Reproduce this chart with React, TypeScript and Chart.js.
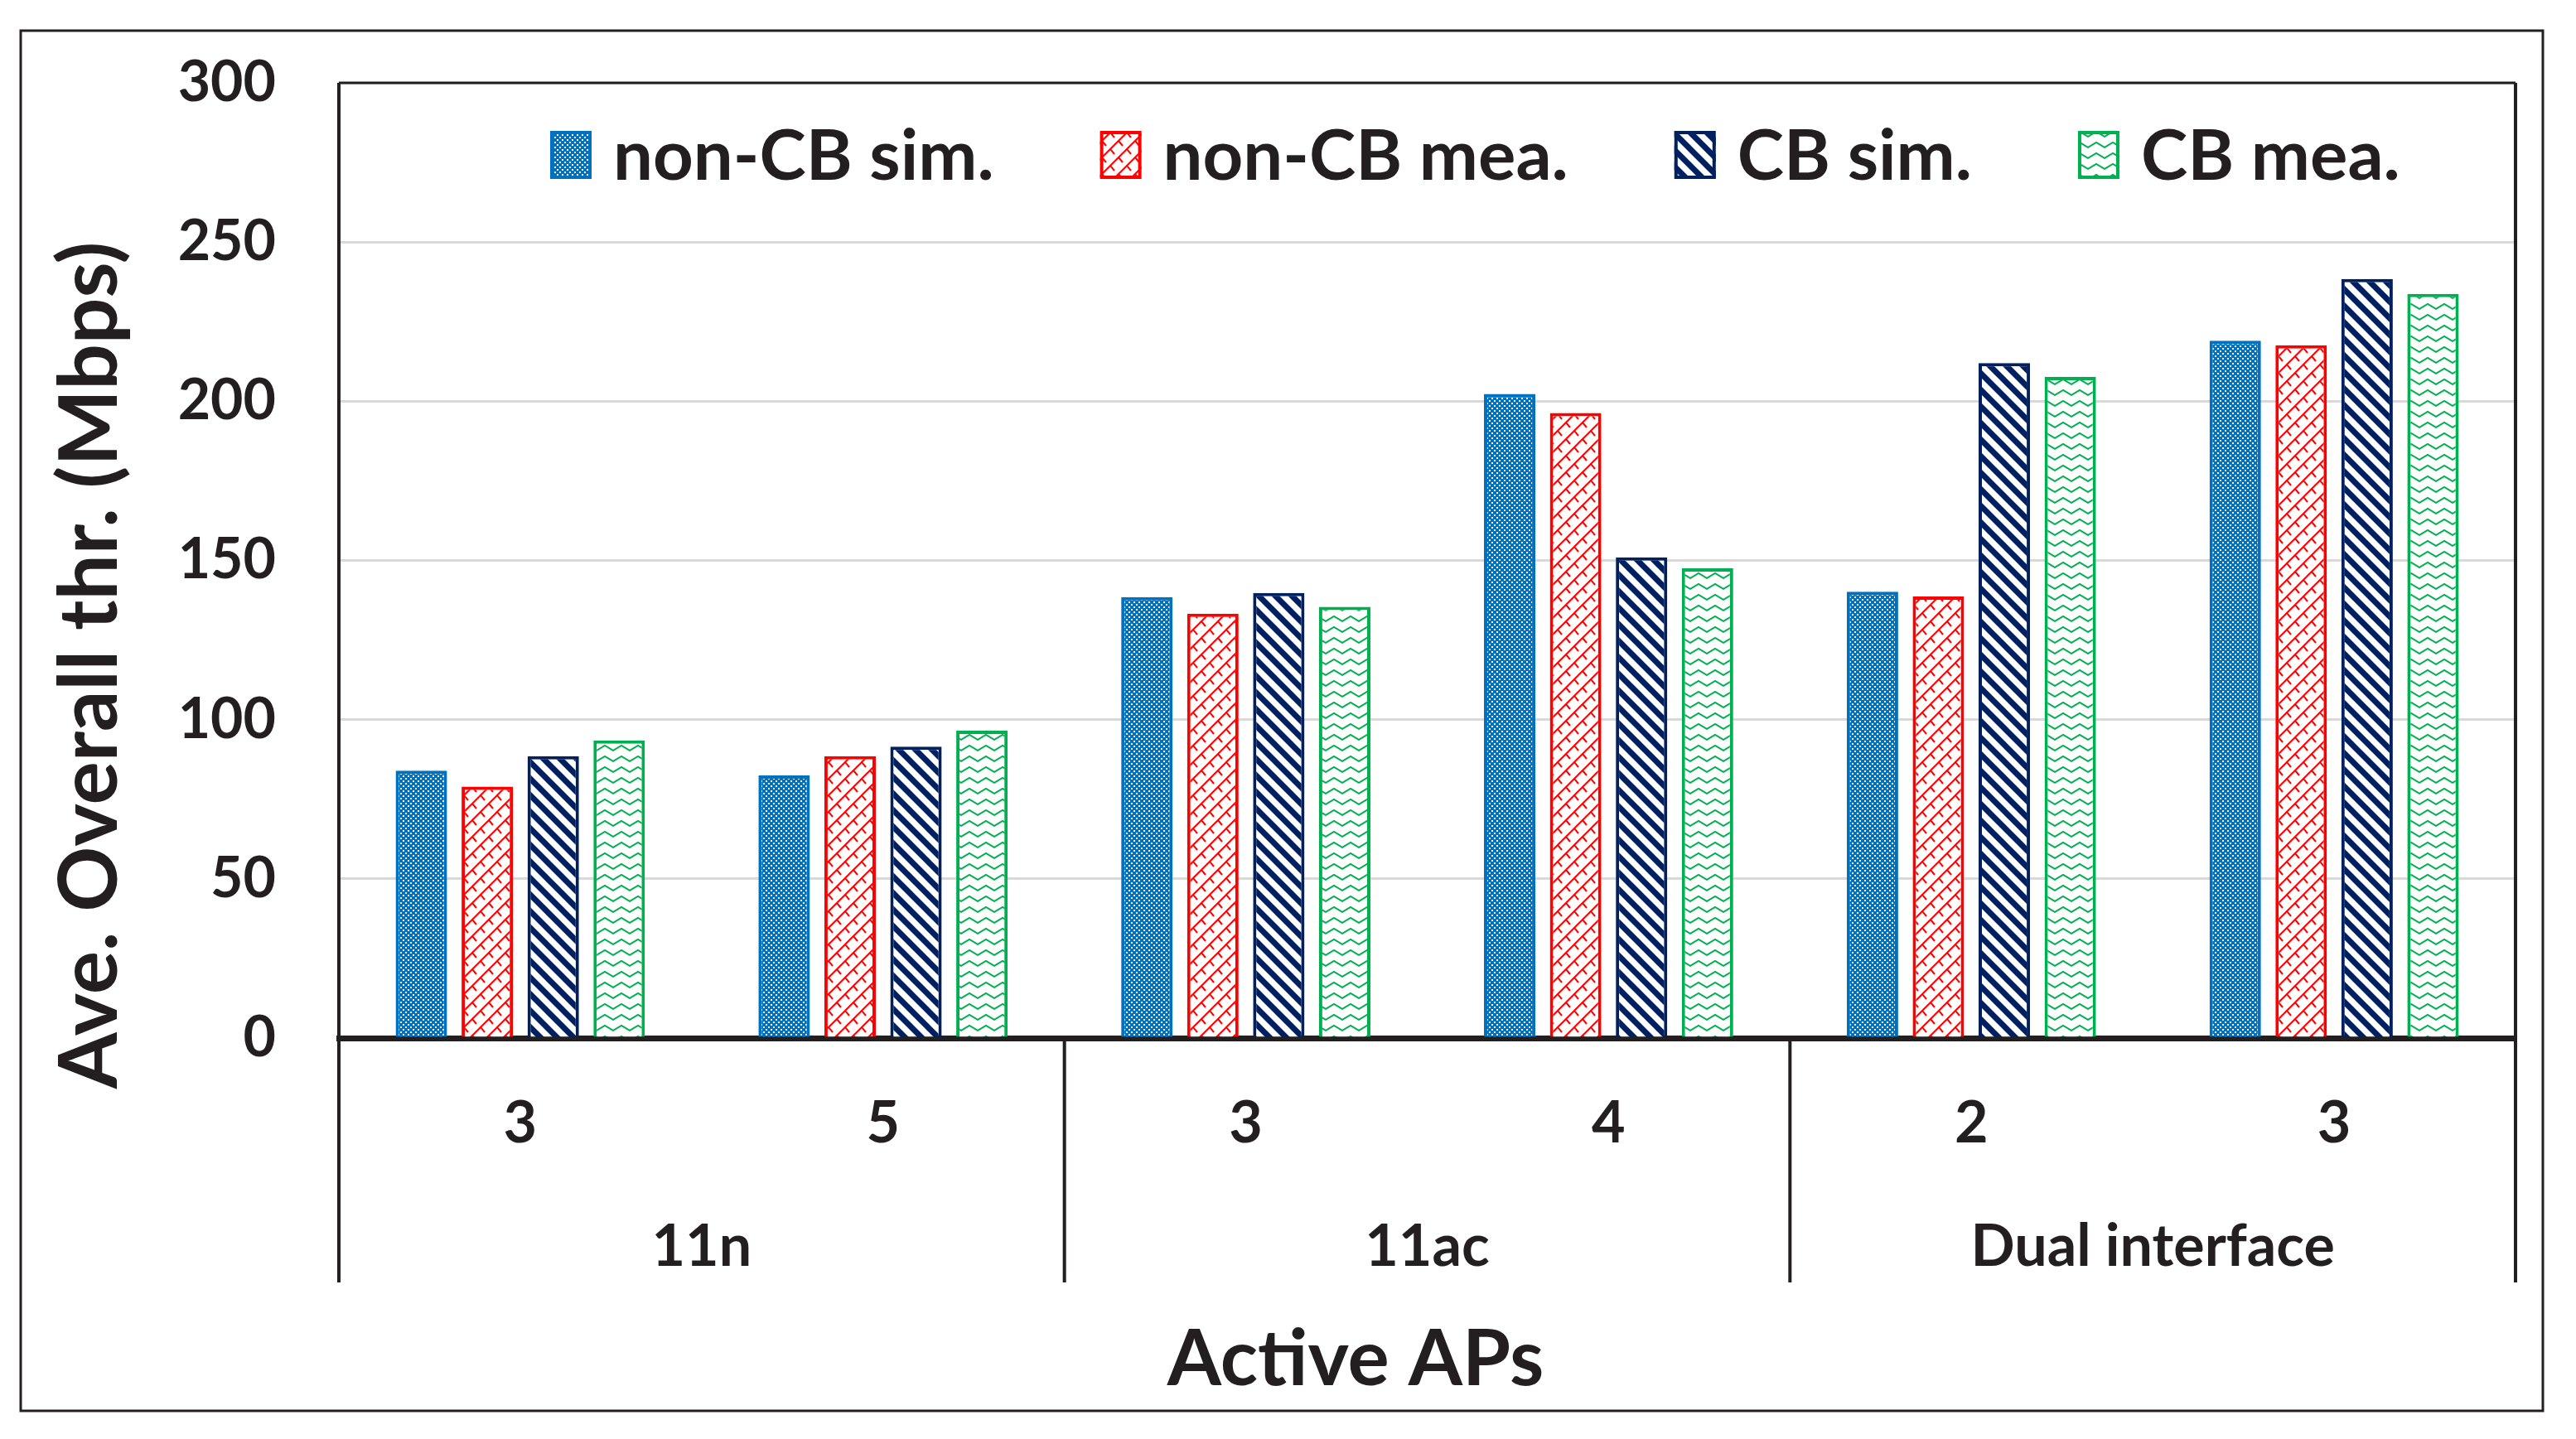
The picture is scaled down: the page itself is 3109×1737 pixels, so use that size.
import React, { useEffect, useRef } from 'react';
import { Chart, registerables } from 'chart.js';

Chart.register(...registerables);

// ---------- data ----------
const subCategories = ['3', '5', '3', '4', '2', '3'];
const groupLabels = ['11n', '11ac', 'Dual interface'];
const groupSizes = [2, 2, 2];
const seriesNames = ['non-CB sim.', 'non-CB mea.', 'CB sim.', 'CB mea.'];
const nonCBSim = [84, 82.5, 138.5, 202.3, 140.2, 219];
const nonCBMea = [79, 88.5, 133.3, 196.3, 138.7, 217.6];
const cbSim = [88.5, 91.5, 139.8, 151, 212, 238.4];
const cbMea = [93.5, 96.5, 135.4, 147.5, 207.6, 233.7];
const yMin = 0;
const yMax = 300;
const yStep = 50;
const yTitle = 'Ave. Overall thr. (Mbps)';
const xTitle = 'Active APs';

// ---------- style ----------
const FONT = 'Lato';
const TEXT = '#231f20';
const seriesColors = ['#0070C0', '#FF0000', '#002060', '#00B050'];
const seriesPatterns = ['dots', 'shingle', 'stripes', 'zigzag'];

function makePattern(kind: string, color: string): CanvasPattern | string {
  const c = document.createElement('canvas');
  const ctx = c.getContext('2d');
  if (!ctx) return color;
  if (kind === 'dots') {
    c.width = 6; c.height = 6;
    ctx.fillStyle = color; ctx.fillRect(0, 0, 6, 6);
    ctx.fillStyle = '#ffffff';
    ctx.fillRect(0, 0, 2, 2);
    ctx.fillRect(3, 3, 2, 2);
  } else if (kind === 'stripes') {
    c.width = 20; c.height = 20;
    ctx.fillStyle = '#ffffff'; ctx.fillRect(0, 0, 20, 20);
    ctx.strokeStyle = color; ctx.lineWidth = 7;
    ctx.beginPath();
    for (const k of [-20, 0, 20]) { ctx.moveTo(k - 5, -5); ctx.lineTo(k + 25, 25); }
    ctx.stroke();
  } else if (kind === 'shingle') {
    c.width = 20; c.height = 20;
    ctx.fillStyle = '#ffffff'; ctx.fillRect(0, 0, 20, 20);
    ctx.strokeStyle = color; ctx.lineWidth = 2;
    ctx.beginPath();
    for (const k of [-20, 0, 20]) { ctx.moveTo(k - 5, 25); ctx.lineTo(k + 25, -5); }
    ctx.moveTo(10, 10); ctx.lineTo(15, 16);
    ctx.moveTo(0, 0); ctx.lineTo(5, 6);
    ctx.moveTo(20, 0); ctx.lineTo(25, 6);
    ctx.stroke();
  } else {
    c.width = 20; c.height = 13;
    ctx.fillStyle = '#ffffff'; ctx.fillRect(0, 0, 20, 13);
    ctx.strokeStyle = color; ctx.lineWidth = 2;
    ctx.beginPath();
    ctx.moveTo(-1, 9.6); ctx.lineTo(0, 9); ctx.lineTo(10, 3); ctx.lineTo(20, 9); ctx.lineTo(21, 9.6);
    ctx.stroke();
  }
  return ctx.createPattern(c, 'repeat') || color;
}

const decor = {
  id: 'decor',
  beforeDraw(chart: any) {
    const ctx = chart.ctx;
    ctx.save();
    ctx.fillStyle = '#ffffff';
    ctx.fillRect(0, 0, chart.width, chart.height);
    ctx.restore();
  },
  afterDraw(chart: any) {
    const ctx = chart.ctx;
    const a = chart.chartArea;
    const xs = chart.scales.x;
    const x2 = chart.scales.x2;
    ctx.save();
    // outer frame
    ctx.strokeStyle = TEXT;
    ctx.lineWidth = 3;
    ctx.strokeRect(25, 37, 3044, 1666);
    // plot top
    const sepBottom = x2.bottom + 4;
    ctx.lineWidth = 3;
    ctx.beginPath();
    ctx.moveTo(a.left, a.top); ctx.lineTo(a.right, a.top);
    ctx.stroke();
    // plot sides and group separators
    ctx.lineWidth = 4;
    const bounds: number[] = [a.left];
    let idx = 0;
    groupSizes.forEach((n, gi) => {
      idx += n;
      if (gi < groupSizes.length - 1) {
        bounds.push((xs.getPixelForValue(idx - 1) + xs.getPixelForValue(idx)) / 2);
      }
    });
    bounds.push(a.right);
    ctx.beginPath();
    bounds.forEach((bx, i) => {
      const top = i === 0 || i === bounds.length - 1 ? a.top : a.bottom;
      ctx.moveTo(bx, top); ctx.lineTo(bx, sepBottom);
    });
    ctx.stroke();

    ctx.fillStyle = TEXT;
    // y title
    ctx.save();
    ctx.translate(109, 803);
    ctx.rotate(-Math.PI / 2);
    ctx.font = `bold 98px ${FONT}`;
    ctx.textAlign = 'center';
    ctx.textBaseline = 'middle';
    ctx.fillText(yTitle, 0, 0);
    ctx.restore();
    // x title
    ctx.font = `bold 94px ${FONT}`;
    ctx.textAlign = 'center';
    ctx.textBaseline = 'middle';
    ctx.fillText(xTitle, 1636, 1642);

    // legend
    let lx = 664;
    const cy = 187;
    const bw = 50, bh = 58;
    ctx.font = `bold 85px ${FONT}`;
    ctx.textAlign = 'left';
    ctx.textBaseline = 'middle';
    chart.data.datasets.forEach((ds: any) => {
      ctx.fillStyle = ds.backgroundColor;
      ctx.fillRect(lx, cy - bh / 2, bw, bh);
      ctx.strokeStyle = ds.borderColor;
      ctx.lineWidth = 4;
      ctx.strokeRect(lx + 2, cy - bh / 2 + 2, bw - 4, bh - 4);
      ctx.fillStyle = TEXT;
      const tx = lx + bw + 26;
      ctx.fillText(ds.label, tx, cy + 3);
      lx = tx + ctx.measureText(ds.label).width + 128;
    });
    ctx.restore();
  },
};

export default function App() {
  const ref = useRef<HTMLCanvasElement>(null);
  useEffect(() => {
    const canvas = ref.current;
    if (!canvas) return;
    const values = [nonCBSim, nonCBMea, cbSim, cbMea];
    const datasets = seriesNames.map((name, i) => ({
      label: name,
      data: values[i],
      backgroundColor: makePattern(seriesPatterns[i], seriesColors[i]),
      borderColor: seriesColors[i],
      borderWidth: 4,
      borderSkipped: 'bottom' as const,
      categoryPercentage: 0.727,
      barPercentage: 0.78,
      xAxisID: 'x',
      yAxisID: 'y',
    }));
    const tickFont = { family: FONT, weight: 'bold' as const, size: 70 };
    const chart = new Chart(canvas, {
      type: 'bar',
      data: { labels: subCategories, datasets },
      options: {
        responsive: false,
        devicePixelRatio: 1,
        animation: false,
        layout: { padding: { left: 0, top: 100, right: 73, bottom: 193 } },
        plugins: { legend: { display: false }, tooltip: { enabled: false } },
        scales: {
          x: {
            type: 'category',
            position: 'bottom',
            weight: 0,
            offset: true,
            grid: { display: false, drawTicks: false },
            border: { display: true, color: TEXT, width: 7 },
            ticks: { font: tickFont, color: TEXT, padding: 61, maxRotation: 0, autoSkip: false },
            afterFit: (s: any) => { s.height = 143; s.paddingLeft = 0; s.paddingRight = 0; },
          },
          x2: {
            type: 'category',
            labels: groupLabels,
            position: 'bottom',
            weight: 1,
            offset: true,
            grid: { display: false, drawTicks: false },
            border: { display: false },
            ticks: { font: tickFont, color: TEXT, padding: 67, maxRotation: 0, autoSkip: false },
            afterFit: (s: any) => { s.height = 148; s.paddingLeft = 0; s.paddingRight = 0; },
          },
          y: {
            min: yMin,
            max: yMax,
            ticks: { stepSize: yStep, font: { family: FONT, weight: 'bold' as const, size: 68 }, color: TEXT, padding: 76 },
            grid: { color: '#d9d9d9', lineWidth: 3, drawTicks: false },
            border: { display: false },
            afterFit: (s: any) => { s.width = 409; s.paddingTop = 0; s.paddingBottom = 0; },
          },
        },
      } as any,
      plugins: [decor],
    });
    return () => chart.destroy();
  }, []);
  return (
    <div style={{ position: 'fixed', left: 0, top: 0, width: 3109, height: 1737, background: '#ffffff' }}>
      <canvas ref={ref} width={3109} height={1737} style={{ display: 'block', width: 3109, height: 1737 }} />
    </div>
  );
}
